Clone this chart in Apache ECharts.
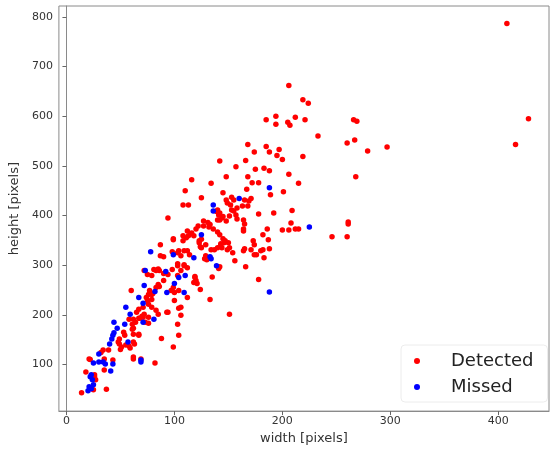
<!DOCTYPE html>
<html>
    <head>
        <meta charset="UTF-8">
        <title>Detected vs missed</title>
        <script src="https://cdn.jsdelivr.net/npm/echarts@6.0.0/dist/echarts.min.js"></script>
        <style>
            html, body {
                margin: 0;
                padding: 0;
                background: #ffffff;
            }
            #chart {
                width: 555px;
                height: 450px;
            }
        </style>
    </head>
    <body>
        <div id="chart"></div>
        <script>
            // [width, height] pairs
            const detectedPoints = [
                [408,787],[428,595],[416,543],
                [206,662],[219,633],[224,626],
                [185,593],[194,600],[194,584],[205,588],[207,582],[212,598],[221,593],
                [233,560],[266,593],[269,590],[260,546],[267,552],[279,530],[297,538],[268,478],
                [168,543],[185,539],[174,528],[197,533],[195,521],[200,513],[219,519],[188,528],
                [142,510],[157,498],[166,511],[175,493],[183,495],[188,490],
                [148,478],[168,478],[206,483],[172,466],[178,466],[215,465],
                [116,472],[134,465],[110,450],[145,446],[201,448],[189,442],[167,453],
                [125,436],[108,421],[113,421],[148,431],[149,425],[155,431],[165,431],[171,434],
                [163,419],[168,419],[152,421],[153,437],[169,429],
                [209,410],[178,403],[192,405],[208,385],
                [139,408],[142,405],[145,398],[140,411],[141,401],[142,391],
                [153,411],[155,409],[158,415],[157,401],[151,399],[144,395],[148,389],
                [94,395],[127,389],[131,386],[133,382],[140,391],[158,393],[164,391],
                [127,379],[132,377],[136,373],[165,383],[164,373],[164,369],
                [123,349],[129,341],[140,367],[142,361],
                [145,353],[147,349],[150,345],[143,343],[151,335],[144,335],
                [173,349],[174,341],[182,361],[187,351],
                [134,331],[165,333],[171,331],[182,331],[188,333],
                [261,387],[261,383],[200,371],[206,371],[212,373],[215,373],[246,357],[260,357],[186,373],
                [99,353],[108,359],[108,349],[112,369],[115,363],[122,379],[120,373],
                [87,341],[98,327],[104,329],[112,329],[125,352],[124,337],
                [114,321],[128,313],[141,293],[154,325],[149,331],[164,329],
                [156,309],[166,297],[176,321],
                [178,271],[87,319],[90,317],[103,303],[103,299],[109,301],[112,295],[86,289],[90,283],
                [119,277],[120,269],[121,263],[135,276],[90,269],[86,257],[97,249],[104,249],[112,235],
                [124,251],[100,229],[133,231],[104,213],[93,205],[106,199],[151,201],[103,181],
                [104,159],[99,135],[88,152],
                [72,289],[83,289],[60,249],[77,249],[79,241],[79,231],[75,229],
                [65,205],[67,211],[71,215],[76,221],[79,215],[83,209],
                [62,191],[67,193],[71,195],[58,191],[64,185],[73,185],[76,183],[62,173],
                [61,181],[67,159],[63,141],[62,115],
                [53,165],[54,159],[49,151],[48,145],[62,161],[67,161],[61,171],[51,135],[55,139],[59,133],[62,145],
                [34,129],[39,129],[21,111],[35,111],[43,109],[62,111],[69,111],[82,103],
                [18,85],[26,75],[27,69],[25,49],[37,50],[14,43],
                [26,79],[22,110],[32,124],[35,89],
                [74,235],[76,241],[80,243],[83,255],[85,261],[75,281],[79,279],[81,291],[85,292],
                [94,281],[99,255],[100,245],[103,279],[106,289],[98,291],[109,299],
                [109,329],[106,319],[103,325],[99,351],[111,355],[113,359],[116,365],[118,359],
                [119,275],[118,265],[123,345],[125,335],[129,319],[130,311],[132,315],[142,297],
                [137,331],[140,335],[143,341],[146,345],[174,321],[180,329],[183,315],
                [68,193],[70,197],[72,201],[76,195],[85,201],[94,205],[106,215],
                [50,130],[49,141],[58,137]
            ];

            const missedPoints = [
                [188,456],[160,434],[136,421],[136,409],[225,377],[125,361],[188,246],
                [78,327],[99,321],[118,315],[133,317],[134,313],[139,299],[92,287],[104,275],
                [110,279],[100,263],[93,245],[109,245],[82,247],[72,259],[73,289],[67,235],[71,223],
                [55,215],[59,201],[71,185],[81,191],[54,181],[44,185],[47,173],[44,164],[43,159],
                [42,151],[40,141],[57,145],[30,121],[30,105],[34,105],[25,103],[36,101],[43,101],
                [41,87],[22,75],[24,69],[23,79],[21,55],[25,59],[20,47],[23,51],[69,109],[69,105]
            ];

            const xTicks = [0, 100, 200, 300, 400];
            const yTicks = [100, 200, 300, 400, 500, 600, 700, 800];

            const chart = echarts.init(document.getElementById('chart'));
            const font = 'DejaVu Sans';

            chart.setOption({
                animation: false,
                textStyle: { fontFamily: font },
                grid: {
                    left: 57,
                    right: 6,
                    top: 6,
                    bottom: 36,
                    show: true,
                    borderColor: '#8a8a8a',
                    borderWidth: 1
                },
                xAxis: {
                    type: 'value',
                    min: -7,
                    max: 447,
                    name: 'width [pixels]',
                    nameLocation: 'middle',
                    nameGap: 18,
                    nameTextStyle: { fontFamily: font, fontSize: 13, color: '#333' },
                    axisLine: { show: true, lineStyle: { color: '#8a8a8a' } },
                    axisTick: { show: true, length: 4, customValues: xTicks, lineStyle: { color: '#666' } },
                    axisLabel: { customValues: xTicks, fontFamily: font, fontSize: 11, color: '#333', margin: 5 },
                    splitLine: { show: false }
                },
                yAxis: {
                    type: 'value',
                    min: 6,
                    max: 822,
                    name: 'height [pixels]',
                    nameLocation: 'middle',
                    nameGap: 33,
                    nameTextStyle: { fontFamily: font, fontSize: 13, color: '#333' },
                    axisLine: { show: true, lineStyle: { color: '#8a8a8a' } },
                    axisTick: { show: true, length: 4, customValues: yTicks, lineStyle: { color: '#666' } },
                    axisLabel: { customValues: yTicks, fontFamily: font, fontSize: 11, color: '#333', margin: 6 },
                    splitLine: { show: false }
                },
                legend: {
                    orient: 'vertical',
                    left: 401,
                    top: 345,
                    padding: [7, 14, 6, 13],
                    borderColor: '#ececec',
                    borderWidth: 1,
                    borderRadius: 4,
                    backgroundColor: 'rgba(255,255,255,0.8)',
                    icon: 'circle',
                    itemWidth: 6,
                    itemHeight: 6,
                    itemGap: 8,
                    textStyle: { fontFamily: font, fontSize: 18, color: '#222', padding: [0, 0, 0, 26] },
                    data: ['Detected', 'Missed']
                },
                series: [
                    {
                        name: 'Detected',
                        type: 'scatter',
                        data: detectedPoints,
                        symbolSize: 5.5,
                        itemStyle: { color: '#ff0000', opacity: 1 }
                    },
                    {
                        name: 'Missed',
                        type: 'scatter',
                        data: missedPoints,
                        symbolSize: 5.5,
                        itemStyle: { color: '#0000ff', opacity: 1 }
                    }
                ]
            });
        </script>
    </body>
</html>
